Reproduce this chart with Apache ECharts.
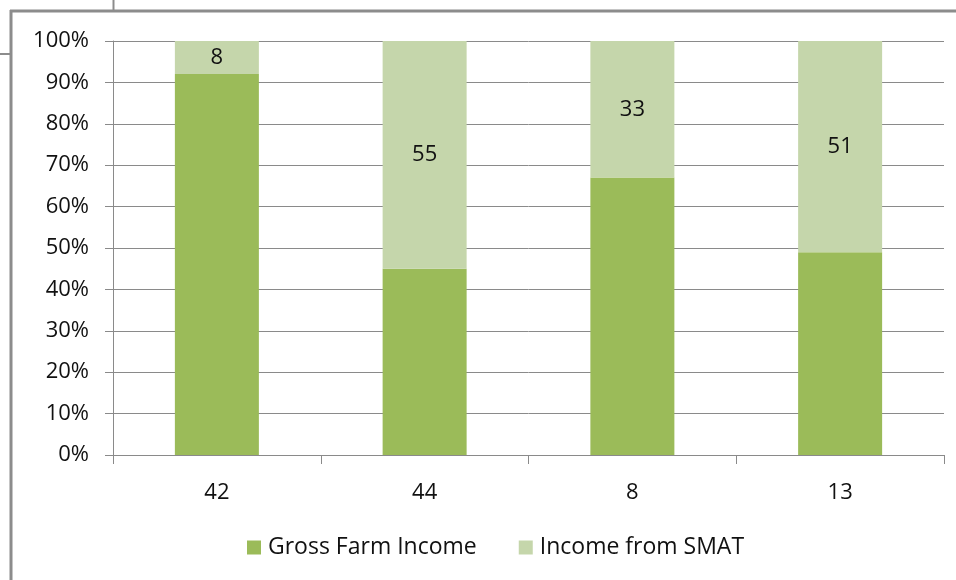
<!DOCTYPE html>
<html>
<head>
<meta charset="utf-8">
<script src="https://cdn.jsdelivr.net/npm/echarts@6/dist/echarts.min.js"></script>
<style>
  html, body { margin: 0; padding: 0; background: #fff; }
  #chart { width: 956px; height: 580px; }
</style>
</head>
<body>
<div id="chart"></div>
<script>
// Share of income by source, stacked to 100%
const categories = ['42', '44', '8', '13'];
const grossFarmIncome = [92, 45, 67, 49];
const incomeFromSmat = [8, 55, 33, 51];
const seriesNames = ['Gross Farm Income', 'Income from SMAT'];

const FONT = '"Open Sans", "Noto Sans", sans-serif';
const AXIS_GREY = '#8a8a8a';

const chart = echarts.init(document.getElementById('chart'), null, { renderer: 'canvas' });

chart.setOption({
  backgroundColor: '#ffffff',
  animation: false,
  textStyle: { fontFamily: FONT },
  grid: { left: 113, right: 12, top: 41, bottom: 125, containLabel: false },
  legend: {
    data: seriesNames,
    left: 242,
    top: 531,
    itemWidth: 14,
    itemHeight: 14,
    itemGap: 42,
    icon: 'rect',
    textStyle: { fontFamily: FONT, fontSize: 23, color: '#111', padding: [0, 0, 0, 2] }
  },
  xAxis: {
    type: 'category',
    data: categories,
    boundaryGap: true,
    axisLine: { show: true, lineStyle: { color: AXIS_GREY, width: 1 } },
    axisTick: { show: true, length: 9, alignWithLabel: false, lineStyle: { color: AXIS_GREY } },
    axisLabel: { margin: 27, fontFamily: FONT, fontSize: 22, color: '#111' },
    splitLine: { show: false }
  },
  yAxis: {
    type: 'value',
    min: 0,
    max: 100,
    interval: 10,
    axisLine: { show: true, lineStyle: { color: AXIS_GREY, width: 1 } },
    axisTick: { show: true, length: 8, lineStyle: { color: AXIS_GREY } },
    axisLabel: { margin: 24, formatter: '{value}%', fontFamily: FONT, fontSize: 22, color: '#111' },
    splitLine: { show: true, lineStyle: { color: AXIS_GREY, width: 1 } }
  },
  series: [
    {
      name: seriesNames[0],
      type: 'bar',
      stack: 'share',
      barWidth: 84,
      data: grossFarmIncome,
      itemStyle: { color: '#9bbb59' }
    },
    {
      name: seriesNames[1],
      type: 'bar',
      stack: 'share',
      barWidth: 84,
      data: incomeFromSmat,
      itemStyle: { color: '#c5d6ab' },
      label: {
        show: true,
        position: 'inside',
        fontFamily: FONT,
        fontSize: 22,
        color: '#111'
      }
    }
  ],
  graphic: [
    // outer frame edges
    { type: 'line', shape: { x1: 10, y1: 11, x2: 956, y2: 11 }, style: { stroke: '#8c8c8c', lineWidth: 3 } },
    { type: 'line', shape: { x1: 11, y1: 10, x2: 11, y2: 580 }, style: { stroke: '#8c8c8c', lineWidth: 3 } },
    { type: 'line', shape: { x1: 113.5, y1: 0, x2: 113.5, y2: 10 }, style: { stroke: '#8c8c8c', lineWidth: 2 } },
    { type: 'line', shape: { x1: 0, y1: 54, x2: 10, y2: 54 }, style: { stroke: '#8c8c8c', lineWidth: 2 } }
  ]
});
</script>
</body>
</html>
